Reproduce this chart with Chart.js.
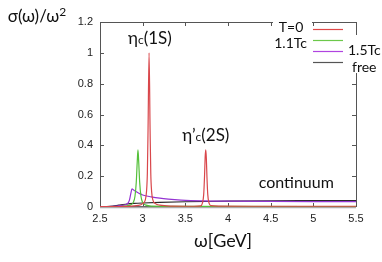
<!DOCTYPE html>
<html>
<head>
<meta charset="utf-8">
<script src="https://cdn.jsdelivr.net/npm/chart.js@4/dist/chart.umd.min.js"></script>
<style>
  body { margin: 0; background: #fff; }
  canvas { display: block; }
</style>
</head>
<body>
<canvas id="c" width="382" height="262"></canvas>
<script>
  // spectral functions (omega in GeV, sigma/omega^2)
  var t0Omega = [2.5, 2.8, 2.95, 3.0, 3.03, 3.045, 3.055, 3.063, 3.075, 3.087, 3.095, 3.105, 3.12, 3.15, 3.2, 3.35, 3.6, 3.68, 3.7, 3.715, 3.725, 3.732, 3.739, 3.746, 3.753, 3.763, 3.778, 3.8, 3.9, 4.3, 5.5];
  var t0Sigma = [0.002, 0.004, 0.01, 0.022, 0.045, 0.1, 0.22, 0.5, 1.0, 0.5, 0.22, 0.1, 0.045, 0.022, 0.012, 0.006, 0.005, 0.007, 0.025, 0.08, 0.2, 0.32, 0.37, 0.32, 0.2, 0.08, 0.025, 0.009, 0.006, 0.005, 0.005];

  var tc11Omega = [2.5, 2.75, 2.85, 2.89, 2.91, 2.925, 2.937, 2.945, 2.953, 2.965, 2.98, 3.0, 3.04, 3.1, 3.5, 5.5];
  var tc11Sigma = [0.0, 0.003, 0.012, 0.03, 0.07, 0.16, 0.3, 0.37, 0.3, 0.16, 0.07, 0.03, 0.012, 0.006, 0.004, 0.003];

  var tc15Omega = [2.5, 2.6, 2.7, 2.78, 2.82, 2.845, 2.862, 2.875, 2.89, 2.92, 2.96, 3.0, 3.1, 3.2, 3.3, 3.45, 3.7, 4.0, 4.5, 5.0, 5.5];
  var tc15Sigma = [0.0, 0.002, 0.006, 0.012, 0.02, 0.045, 0.09, 0.118, 0.112, 0.1, 0.088, 0.078, 0.066, 0.057, 0.051, 0.045, 0.04, 0.038, 0.036, 0.035, 0.035];

  var freeOmega = [2.5, 2.58, 2.65, 2.72, 2.8, 2.9, 3.0, 3.2, 3.5, 4.0, 4.5, 5.0, 5.5];
  var freeSigma = [0.0, 0.002, 0.006, 0.012, 0.018, 0.023, 0.026, 0.03, 0.034, 0.038, 0.04, 0.041, 0.042];

  var seriesNames = ['T=0', '1.1Tc', '1.5Tc', 'free'];
  var xTickLabels = ['2.5', '3', '3.5', '4', '4.5', '5', '5.5'];
  var yTickLabels = ['0', '0.2', '0.4', '0.6', '0.8', '1', '1.2'];

  var colors = ['#d9474b', '#55c03a', '#9434d2', '#2a2a2a'];
  var legendColors = ['#e04848', '#6cc84a', '#b044e0', '#555555'];

  function pts(xs, ys) {
    return xs.map(function(x, i) { return { x: x, y: ys[i] }; });
  }

  function sub(ctx, parts, cx, cy) {
    // draw text pieces [text, size, dy] centred on cx
    var w = 0;
    parts.forEach(function(p) { ctx.font = p[1] + 'px Lato'; w += ctx.measureText(p[0]).width; });
    var x = cx - w / 2;
    parts.forEach(function(p) {
      ctx.font = p[1] + 'px Lato';
      ctx.fillText(p[0], x, cy + p[2]);
      x += ctx.measureText(p[0]).width;
    });
  }

  var decor = {
    id: 'decor',
    beforeDatasetsDraw: function(chart) {
      var ctx = chart.ctx, a = chart.chartArea;
      var xs = chart.scales.x, ys = chart.scales.y;
      ctx.save();
      ctx.strokeStyle = '#555';
      ctx.lineWidth = 1;
      ctx.strokeRect(Math.round(a.left) + 0.5, Math.round(a.top) + 0.5,
        Math.round(a.right - a.left), Math.round(a.bottom - a.top) - 1);
      ctx.beginPath();
      xs.ticks.forEach(function(t) {
        var px = Math.round(xs.getPixelForValue(t.value)) + 0.5;
        ctx.moveTo(px, a.bottom); ctx.lineTo(px, a.bottom - 4);
        ctx.moveTo(px, a.top); ctx.lineTo(px, a.top + 4);
      });
      ys.ticks.forEach(function(t) {
        var py = Math.round(ys.getPixelForValue(t.value)) + 0.5;
        ctx.moveTo(a.left, py); ctx.lineTo(a.left + 4, py);
        ctx.moveTo(a.right, py); ctx.lineTo(a.right - 4, py);
      });
      ctx.stroke();
      ctx.strokeStyle = '#aaa';
      ctx.lineWidth = 1.5;
      ctx.beginPath();
      ctx.moveTo(a.left, a.bottom + 0.5); ctx.lineTo(a.right, a.bottom + 0.5);
      ctx.stroke();
      ctx.restore();
    },
    afterDatasetsDraw: function(chart) {
      var ctx = chart.ctx, xs = chart.scales.x, ys = chart.scales.y;
      ctx.save();
      // legend area covers the frame
      ctx.fillStyle = '#fff';
      ctx.fillRect(273, 14, 39, 20);
      ctx.fillRect(346, 35, 36, 38);
      ctx.lineWidth = 1.2;
      var lineY = [29.5, 40.5, 51.5, 62.5];
      lineY.forEach(function(y, i) {
        ctx.strokeStyle = legendColors[i];
        ctx.beginPath(); ctx.moveTo(313, y); ctx.lineTo(343, y); ctx.stroke();
      });
      ctx.fillStyle = '#111';
      ctx.textBaseline = 'middle';
      ctx.font = '14px Lato';
      ctx.textAlign = 'center';
      ctx.fillText(seriesNames[0], 291, 27);
      ctx.textAlign = 'right';
      ctx.fillText(seriesNames[1], 307, 43);
      ctx.textAlign = 'left';
      ctx.fillText(seriesNames[2], 348, 50);
      ctx.fillText(seriesNames[3], 352, 67);

      // annotations
      ctx.textAlign = 'left';
      sub(ctx, [['\u03b7', 17, 0], ['c', 12, 2], ['(1S)', 17, 0]],
        xs.getPixelForValue(3.085), ys.getPixelForValue(1.096));
      sub(ctx, [['\u03b7\u2019', 17, 0], ['c', 12, 2], ['(2S)', 17, 0]],
        xs.getPixelForValue(3.74), ys.getPixelForValue(0.465));
      sub(ctx, [['continuum', 16, 0]],
        xs.getPixelForValue(4.8), ys.getPixelForValue(0.155));

      // axis titles
      sub(ctx, [['\u03c3(\u03c9)/\u03c9', 17, 0], ['2', 12, -5]], 37, 17);
      sub(ctx, [['\u03c9[GeV]', 18, 0]], 223, 241);
      ctx.restore();
    }
  };

  var sets = [
    [t0Omega, t0Sigma], [tc11Omega, tc11Sigma], [tc15Omega, tc15Sigma], [freeOmega, freeSigma]
  ];

  new Chart(document.getElementById('c'), {
    type: 'line',
    data: {
      datasets: sets.map(function(s, i) {
        return {
          label: seriesNames[i],
          data: pts(s[0], s[1]),
          borderColor: colors[i],
          borderWidth: 1.2,
          pointRadius: 0,
          tension: 0,
          cubicInterpolationMode: 'monotone',
          fill: false
        };
      })
    },
    options: {
      responsive: false,
      animation: false,
      devicePixelRatio: 1,
      layout: { padding: { left: 0, top: 22, right: 26, bottom: 0 } },
      plugins: { legend: { display: false }, tooltip: { enabled: false } },
      scales: {
        x: {
          type: 'linear', min: 2.5, max: 5.5,
          grid: { display: false, drawTicks: false },
          border: { display: false },
          ticks: {
            stepSize: 0.5, padding: 5, color: '#222',
            font: { family: 'Liberation Sans', size: 11 },
            callback: function(v, i) { return xTickLabels[i]; }
          },
          afterFit: function(s) { s.height = 55; }
        },
        y: {
          min: 0, max: 1.2,
          grid: { display: false, drawTicks: false },
          border: { display: false },
          ticks: {
            stepSize: 0.2, padding: 7, color: '#222',
            font: { family: 'Liberation Sans', size: 11 },
            callback: function(v, i) { return yTickLabels[i]; }
          },
          afterFit: function(s) { s.width = 100; }
        }
      }
    },
    plugins: [decor]
  });
</script>
</body>
</html>
